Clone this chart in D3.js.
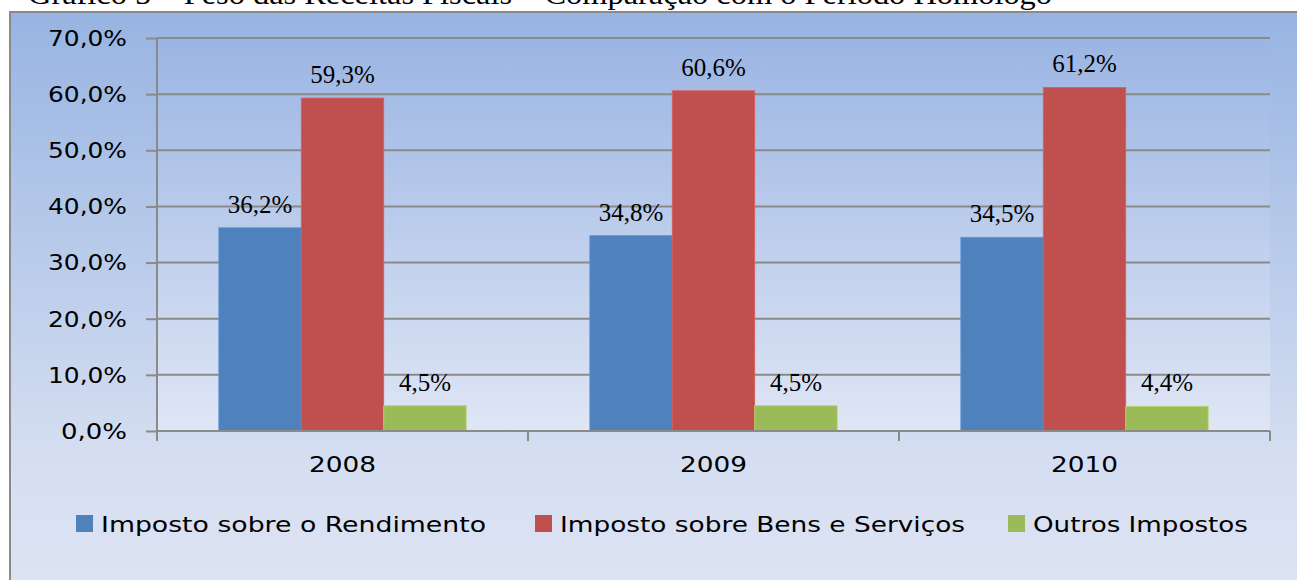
<!DOCTYPE html>
<html><head><meta charset="utf-8">
<script src="https://cdn.jsdelivr.net/npm/d3@7"></script>
<style>body{margin:0;background:#fff;overflow:hidden}svg{display:block}</style>
</head><body>
<script>
const categories = ["2008", "2009", "2010"];
const seriesNames = ["Imposto sobre o Rendimento", "Imposto sobre Bens e Serviços", "Outros Impostos"];
const rendimento = [36.2, 34.8, 34.5];
const bens = [59.3, 60.6, 61.2];
const outros = [4.5, 4.5, 4.4];
const yTicks = [0, 10, 20, 30, 40, 50, 60, 70];
const colors = ["#4F81BD", "#C0504D", "#9BBB59"];
const titleText = "Gráfico 5 – Peso das Receitas Fiscais – Comparação com o Período Homólogo";

const W = 1297, H = 580;
const svg = d3.select("body").append("svg").attr("width", W).attr("height", H);
const defs = svg.append("defs");
const g1 = defs.append("linearGradient").attr("id","outerG").attr("x1",0).attr("y1",0).attr("x2",0).attr("y2",1);
g1.append("stop").attr("offset","0").attr("stop-color","#97B4E2");
g1.append("stop").attr("offset","0.75").attr("stop-color","#D5DEF1");
g1.append("stop").attr("offset","1").attr("stop-color","#DDE4F3");
const g2 = defs.append("linearGradient").attr("id","plotG").attr("x1",0).attr("y1",0).attr("x2",0).attr("y2",1);
g2.append("stop").attr("offset","0").attr("stop-color","#9BB5E3");
g2.append("stop").attr("offset","1").attr("stop-color","#DFE6F5");

// title (clipped at top, as in the reference)
svg.append("text").attr("x", 28).attr("y", 4)
  .attr("font-family","Liberation Serif, Times New Roman, serif").attr("font-size", 30)
  .attr("textLength", 1024).attr("lengthAdjust","spacingAndGlyphs")
  .attr("fill","#000").text(titleText);

// chart box
svg.append("rect").attr("x", 10).attr("y", 12).attr("width", W + 10).attr("height", H + 10)
  .attr("fill","url(#outerG)").attr("stroke","#8a8a8a").attr("stroke-width", 2);

const m = {left: 157, right: 1270, top: 38, bottom: 431};
svg.append("rect").attr("x", m.left).attr("y", m.top).attr("width", m.right - m.left).attr("height", m.bottom - m.top)
  .attr("fill","url(#plotG)");

const x0 = d3.scaleBand().domain(categories).range([m.left, m.right]).paddingInner(0).paddingOuter(0);
const x1 = d3.scaleBand().domain(seriesNames).range([0, x0.bandwidth()]).paddingInner(0).paddingOuter(0.75);
const y = d3.scaleLinear().domain([0, 70]).range([m.bottom, m.top]);

const fmt = v => d3.format(".1f")(v).replace(".", ",") + "%";
const yAxis = d3.axisLeft(y).tickValues(yTicks).tickSize(11).tickFormat(fmt);
const ga = svg.append("g").attr("transform", `translate(${m.left},0)`).call(yAxis);
ga.select(".domain").attr("stroke","#8a8a8a").attr("stroke-width",2).attr("d", `M0,${m.top}V${m.bottom}`);
ga.selectAll(".tick line").attr("stroke","#8a8a8a").attr("stroke-width",2);
ga.selectAll(".tick text").attr("font-family","DejaVu Sans, sans-serif").attr("font-size",21)
  .attr("fill","#000").attr("x",-30).attr("dy","0.35em")
  .attr("textLength", d => fmt(d).length === 5 ? 79 : 66).attr("lengthAdjust","spacingAndGlyphs");
svg.append("g").selectAll("line").data(yTicks.filter(t => t > 0)).join("line")
  .attr("x1", m.left).attr("x2", m.right).attr("y1", d => y(d)).attr("y2", d => y(d))
  .attr("stroke","#8a8a8a").attr("stroke-width",2);

// bars
const data = categories.map((c, i) => ({c, vals: [rendimento[i], bens[i], outros[i]]}));
const groups = svg.append("g").selectAll("g").data(data).join("g")
  .attr("transform", d => `translate(${x0(d.c)},0)`);
groups.selectAll("rect").data(d => d.vals.map((v, k) => ({v, k}))).join("rect")
  .attr("x", d => x1(seriesNames[d.k])).attr("width", x1.bandwidth())
  .attr("y", d => y(d.v)).attr("height", d => y(0) - y(d.v))
  .attr("fill", d => colors[d.k]).attr("stroke", d => d3.color(colors[d.k]).brighter(0.4)).attr("stroke-width", 0.8);
groups.selectAll("text").data(d => d.vals.map((v, k) => ({v, k}))).join("text")
  .attr("x", d => x1(seriesNames[d.k]) + x1.bandwidth() / 2).attr("y", d => y(d.v) - 15)
  .attr("text-anchor","middle").attr("font-family","Liberation Serif, Times New Roman, serif")
  .attr("font-size", 25).attr("fill","#000").text(d => fmt(d.v));

// x axis
const xAxis = d3.axisBottom(x0).tickSize(0).tickFormat(d => d);
const gx = svg.append("g").attr("transform", `translate(0,${m.bottom})`).call(xAxis);
gx.select(".domain").attr("stroke","#8a8a8a").attr("stroke-width",2).attr("d", `M${m.left},0H${m.right}`);
gx.selectAll(".tick text").attr("font-family","DejaVu Sans, sans-serif").attr("font-size",21)
  .attr("fill","#000").attr("y", 34).attr("dy","0.35em")
  .attr("textLength", 67).attr("lengthAdjust","spacingAndGlyphs");
const bounds = [m.left, ...categories.map(c => x0(c) + x0.bandwidth())];
svg.append("g").selectAll("line").data(bounds).join("line")
  .attr("x1", d => d).attr("x2", d => d).attr("y1", m.bottom).attr("y2", m.bottom + 10)
  .attr("stroke","#8a8a8a").attr("stroke-width",2);

// legend
const legX = [76, 535, 1008];
const legW = [385, 405, 215];
const leg = svg.append("g").selectAll("g").data(seriesNames).join("g")
  .attr("transform", (d, i) => `translate(${legX[i]},515)`);
leg.append("rect").attr("width", 17).attr("height", 17).attr("fill", (d, i) => colors[i]);
leg.append("text").attr("x", 25).attr("y", 9).attr("dy","0.35em")
  .attr("font-family","DejaVu Sans, sans-serif").attr("font-size", 22).attr("fill","#000")
  .attr("textLength", (d, i) => legW[i]).attr("lengthAdjust","spacingAndGlyphs").text(d => d);
</script>
</body></html>
